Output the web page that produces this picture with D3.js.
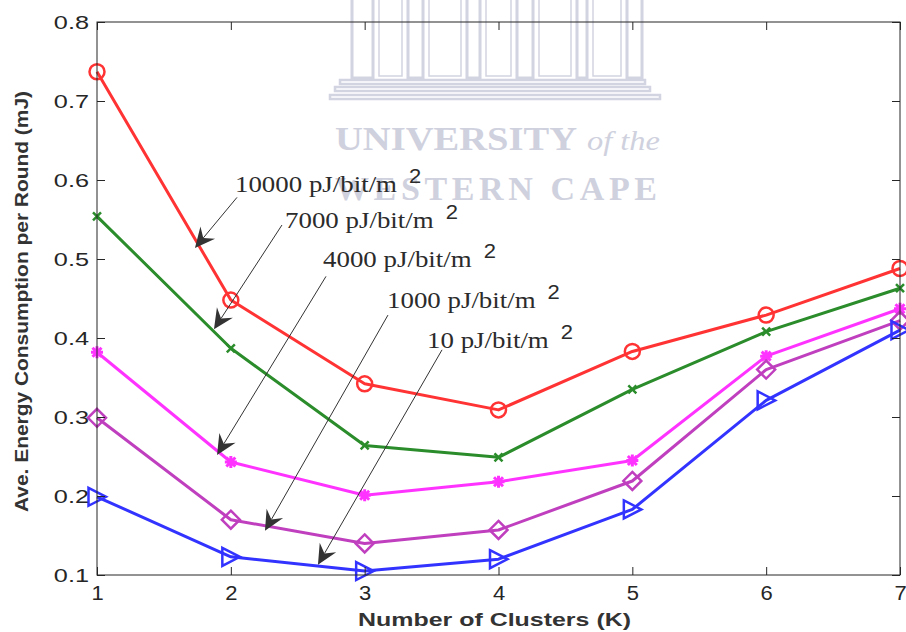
<!DOCTYPE html>
<html><head><meta charset="utf-8">
<script src="https://cdn.jsdelivr.net/npm/d3@7"></script>
<style>body{margin:0;background:#fff}svg{display:block}</style>
</head><body>
<svg id="c" width="906" height="632"></svg>
<script>
// ---- data ----
const clusters = [1, 2, 3, 4, 5, 6, 7];
const e10000 = [0.737, 0.448, 0.342, 0.309, 0.383, 0.429, 0.488];
const e7000  = [0.554, 0.387, 0.264, 0.249, 0.335, 0.408, 0.463];
const e4000  = [0.382, 0.243, 0.201, 0.218, 0.245, 0.377, 0.437];
const e1000  = [0.299, 0.170, 0.140, 0.157, 0.219, 0.360, 0.422];
const e10    = [0.199, 0.123, 0.105, 0.120, 0.183, 0.321, 0.410];
const xTicks = [1, 2, 3, 4, 5, 6, 7];
const xTickLabels = ["1", "2", "3", "4", "5", "6", "7"];
const yTicks = [0.1, 0.2, 0.3, 0.4, 0.5, 0.6, 0.7, 0.8];
const yTickLabels = ["0.1", "0.2", "0.3", "0.4", "0.5", "0.6", "0.7", "0.8"];
const xTitle = "Number of Clusters (K)";
const yTitle = "Ave. Energy Consumption per Round (mJ)";
// annotation labels and anchors (data units)
const annoLabels = ["10000 pJ/bit/m", "7000 pJ/bit/m", "4000 pJ/bit/m", "1000 pJ/bit/m", "10 pJ/bit/m"];
const annoTextAt = [[2.031, 0.585], [2.405, 0.539], [2.689, 0.490], [3.167, 0.438], [3.466, 0.387]];
const arrowFrom  = [[2.046, 0.578], [2.382, 0.543], [2.711, 0.478], [3.174, 0.429], [3.578, 0.385]];
const arrowTo    = [[1.732, 0.514], [1.874, 0.411], [1.897, 0.252], [2.255, 0.156], [2.651, 0.113]];

const series = [
  {v: e10000, color: "#ff3333", marker: "circle"},
  {v: e7000,  color: "#2a8c2a", marker: "x"},
  {v: e4000,  color: "#ff33ff", marker: "star"},
  {v: e1000,  color: "#bf3fbf", marker: "diamond"},
  {v: e10,    color: "#3333ff", marker: "tri"}
];

const svg = d3.select("#c");
const x = d3.scaleLinear().domain([1, 7]).range([97, 900]);
const y = d3.scaleLinear().domain([0.1, 0.8]).range([575, 22]);

function stretch(sel, k) {
  sel.each(function () {
    const w = this.getComputedTextLength();
    d3.select(this).attr("textLength", w * k).attr("lengthAdjust", "spacingAndGlyphs");
  });
}

// ---- watermark ----
const wm = svg.append("g").attr("fill", "none").attr("stroke", "#d2d4e1");
const pillars = [[352, 373], [408, 423], [467, 480], [517, 533], [577, 587], [627, 642]];
pillars.forEach(p => {
  wm.append("rect").attr("x", p[0]).attr("y", -3).attr("width", p[1] - p[0]).attr("height", 81).attr("stroke-width", 3);
});
for (let i = 0; i < pillars.length - 1; i++) {
  wm.append("rect").attr("x", pillars[i][1] + 6).attr("y", -3)
    .attr("width", pillars[i + 1][0] - pillars[i][1] - 12).attr("height", 79).attr("stroke-width", 1.5);
}
[[340, 645, 80], [335, 650, 87], [330, 660, 95]].forEach(s => {
  wm.append("rect").attr("x", s[0]).attr("y", s[2]).attr("width", s[1] - s[0]).attr("height", 4).attr("stroke-width", 2.5);
});
const wmt = svg.append("g").attr("fill", "#cfd1de").attr("font-family", "Liberation Serif, Times New Roman, serif");
wmt.append("text").attr("x", 335).attr("y", 150).attr("font-size", 34).attr("font-weight", "bold")
  .attr("textLength", 242).attr("lengthAdjust", "spacingAndGlyphs").text("UNIVERSITY");
wmt.append("text").attr("x", 587).attr("y", 150).attr("font-size", 27).attr("font-style", "italic")
  .attr("textLength", 73).attr("lengthAdjust", "spacingAndGlyphs").text("of the");
wmt.append("text").attr("x", 335).attr("y", 200).attr("font-size", 34).attr("font-weight", "bold")
  .attr("textLength", 322).attr("lengthAdjust", "spacing").text("WESTERN CAPE");

// ---- series ----
const line = d3.line().x((d, i) => x(clusters[i])).y(d => y(d));
const markerPaths = {
  x: "M-4,-4L4,4M-4,4L4,-4",
  star: "M-6,0L6,0M0,-6L0,6M-4.5,-4.5L4.5,4.5M-4.5,4.5L4.5,-4.5",
  diamond: "M0,-9L9,0L0,9L-9,0Z",
  tri: "M-8.5,-9L9,0L-8.5,9Z"
};
series.forEach(s => {
  const g = svg.append("g");
  g.append("path").attr("d", line(s.v)).attr("fill", "none").attr("stroke", s.color)
    .attr("stroke-width", 3).attr("stroke-linejoin", "round");
  const m = g.selectAll(".m").data(s.v).enter();
  if (s.marker === "circle") {
    m.append("circle").attr("cx", (d, i) => x(clusters[i])).attr("cy", d => y(d)).attr("r", 7.5)
      .attr("fill", "none").attr("stroke", s.color).attr("stroke-width", 2.5);
  } else {
    m.append("path").attr("transform", (d, i) => `translate(${x(clusters[i])},${y(d)})`)
      .attr("d", markerPaths[s.marker]).attr("fill", "none").attr("stroke", s.color)
      .attr("stroke-width", s.marker === "star" ? 3 : 2.5).attr("stroke-linejoin", "miter");
  }
});

// ---- axes ----
const axCol = "#262626";
const ax = svg.append("g");
ax.append("rect").attr("x", x(1)).attr("y", y(0.8)).attr("width", x(7) - x(1)).attr("height", y(0.1) - y(0.8))
  .attr("fill", "none").attr("stroke", axCol).attr("stroke-width", 1);
const gB = ax.append("g").attr("transform", `translate(0,${y(0.1)})`)
  .call(d3.axisBottom(x).tickValues(xTicks).tickFormat((d, i) => xTickLabels[i]).tickSizeInner(-8).tickSizeOuter(0));
const gT = ax.append("g").attr("transform", `translate(0,${y(0.8)})`)
  .call(d3.axisTop(x).tickValues(xTicks).tickFormat("").tickSizeInner(-8).tickSizeOuter(0));
const gL = ax.append("g").attr("transform", `translate(${x(1)},0)`)
  .call(d3.axisLeft(y).tickValues(yTicks).tickFormat((d, i) => yTickLabels[i]).tickSizeInner(-8).tickSizeOuter(0));
const gR = ax.append("g").attr("transform", `translate(${x(7)},0)`)
  .call(d3.axisRight(y).tickValues(yTicks).tickFormat("").tickSizeInner(-8).tickSizeOuter(0));
[gB, gT, gL, gR].forEach(g => {
  g.select(".domain").remove();
  g.selectAll(".tick line").attr("stroke", axCol);
});
gB.selectAll("text").attr("y", 25).attr("dy", 0).attr("font-size", 20)
  .attr("font-family", "Liberation Sans, Arial, sans-serif").attr("fill", axCol);
gL.selectAll("text").attr("x", -8).attr("dy", "0.36em").attr("font-size", 19)
  .attr("font-family", "Liberation Sans, Arial, sans-serif").attr("fill", axCol);
stretch(gB.selectAll("text"), 1.1);
stretch(gL.selectAll("text"), 1.33);

svg.append("text").attr("x", (x(1) + x(7)) / 2 - 4).attr("y", 626).attr("text-anchor", "middle")
  .attr("font-family", "Liberation Sans, Arial, sans-serif").attr("font-weight", "bold").attr("font-size", 18)
  .attr("fill", "#333").attr("textLength", 273).attr("lengthAdjust", "spacingAndGlyphs").text(xTitle);
svg.append("text").attr("transform", `translate(28,${(y(0.1) + y(0.8)) / 2 + 3}) rotate(-90)`)
  .attr("text-anchor", "middle")
  .attr("font-family", "Liberation Sans, Arial, sans-serif").attr("font-weight", "bold").attr("font-size", 18)
  .attr("fill", "#333").attr("textLength", 421).attr("lengthAdjust", "spacingAndGlyphs").text(yTitle);

// ---- annotations ----
const an = svg.append("g");
annoLabels.forEach((lab, i) => {
  const x0 = x(arrowFrom[i][0]), y0 = y(arrowFrom[i][1]);
  const x1 = x(arrowTo[i][0]), y1 = y(arrowTo[i][1]);
  const dx = x1 - x0, dy = y1 - y0, len = Math.hypot(dx, dy);
  const ux = dx / len, uy = dy / len, px = -uy, py = ux;
  const L = 20, W = 9.5, N = 13;
  an.append("line").attr("x1", x0).attr("y1", y0).attr("x2", x1 - ux * N).attr("y2", y1 - uy * N)
    .attr("stroke", "#333").attr("stroke-width", 1);
  const head = [
    [x1, y1],
    [x1 - ux * L + px * W, y1 - uy * L + py * W],
    [x1 - ux * N, y1 - uy * N],
    [x1 - ux * L - px * W, y1 - uy * L - py * W]
  ];
  an.append("path").attr("d", "M" + head.map(p => p.join(",")).join("L") + "Z").attr("fill", "#333");
  const tx = x(annoTextAt[i][0]), ty = y(annoTextAt[i][1]);
  const t = an.append("text").attr("x", tx).attr("y", ty).attr("font-size", 24)
    .attr("font-family", "Liberation Serif, Times New Roman, serif").attr("fill", "#2b2b2b").text(lab);
  const w = t.node().getComputedTextLength() * 1.12;
  t.attr("textLength", w).attr("lengthAdjust", "spacingAndGlyphs");
  const s = an.append("text").attr("x", tx + w + 12).attr("y", ty - 9).attr("font-size", 20)
    .attr("font-family", "Liberation Sans, Arial, sans-serif").attr("fill", "#2b2b2b").text("2");
  stretch(s, 1.1);
});
</script>
</body></html>
